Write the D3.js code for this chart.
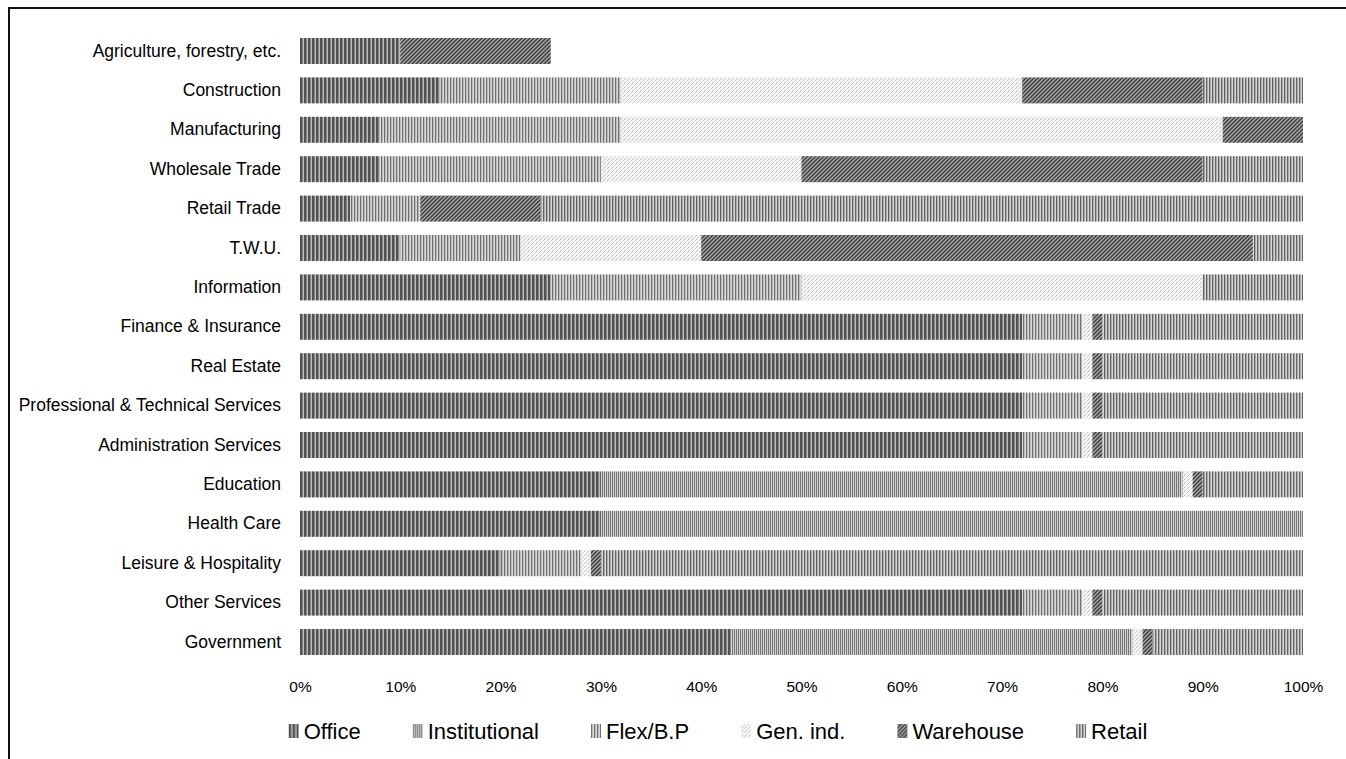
<!DOCTYPE html>
<html>
<head>
<meta charset="utf-8">
<script src="https://cdn.jsdelivr.net/npm/d3@7"></script>
<style>
  body { margin: 0; background: #fff; }
  #chart { width: 1346px; height: 759px; overflow: hidden; }
  text { font-family: "Liberation Sans", Arial, sans-serif; fill: #000; }
</style>
</head>
<body>
<div id="chart"></div>
<script>
// share of floor space by type, in %, per industry
var categories = ['Agriculture, forestry, etc.', 'Construction', 'Manufacturing', 'Wholesale Trade',
  'Retail Trade', 'T.W.U.', 'Information', 'Finance & Insurance', 'Real Estate',
  'Professional & Technical Services', 'Administration Services', 'Education', 'Health Care',
  'Leisure & Hospitality', 'Other Services', 'Government'];

var office        = [10, 14,  8,  8,  5, 10, 25, 72, 72, 72, 72, 30, 30, 20, 72, 43];
var institutional = [ 0,  0,  0,  0,  0,  0,  0,  0,  0,  0,  0, 58, 70,  0,  0, 40];
var flex          = [ 0, 18, 24, 22,  7, 12, 25,  6,  6,  6,  6,  0,  0,  8,  6,  0];
var genInd        = [ 0, 40, 60, 20,  0, 18, 40,  1,  1,  1,  1,  1,  0,  1,  1,  1];
var warehouse     = [15, 18,  8, 40, 12, 55,  0,  1,  1,  1,  1,  1,  0,  1,  1,  1];
var retail        = [ 0, 10,  0, 10, 76,  5, 10, 20, 20, 20, 20, 10,  0, 70, 20, 15];

var seriesNames = ['Office', 'Institutional', 'Flex/B.P', 'Gen. ind.', 'Warehouse', 'Retail'];
var tickValues = [0, 10, 20, 30, 40, 50, 60, 70, 80, 90, 100];

var spaceChart = {

  config: {
    width: 1346,
    height: 759,
    left: 300,
    right: 1303,
    top: 31.3,
    bottom: 661.7
  },

  /* ---
   * Builds the whole chart
   */
  display: function(el) {
    this.el = el;
    this.keys = ['office', 'institutional', 'flex', 'genInd', 'warehouse', 'retail'];
    this.rows = categories.map(function(c, i) {
      return { category: c, office: office[i], institutional: institutional[i], flex: flex[i],
               genInd: genInd[i], warehouse: warehouse[i], retail: retail[i] };
    });

    this.createSvg();
    this.createPatterns();
    this.createScales();
    this.createBars();
    this.createAxes();
    this.createLegend();
  },

  createSvg: function() {
    this.svg = d3.select(this.el).append('svg')
                 .attr('width', this.config.width)
                 .attr('height', this.config.height);

    // chart border, cut off by the window
    this.svg.append('path')
            .attr('d', 'M9,760 L9,8 L1347,8')
            .attr('fill', 'none')
            .attr('stroke', '#111')
            .attr('stroke-width', 2);
  },

  /* ---
   * Hatch fills that mimic the grey pattern fills of the original
   */
  createPatterns: function() {
    var defs = this.svg.append('defs');

    function vertical(id, w, bg, stripes) {
      var p = defs.append('pattern').attr('id', id)
                  .attr('patternUnits', 'userSpaceOnUse')
                  .attr('width', w).attr('height', 8);
      p.append('rect').attr('width', w).attr('height', 8).attr('fill', bg);
      stripes.forEach(function(s) {
        p.append('rect').attr('x', s[0]).attr('width', s[1]).attr('height', 8).attr('fill', s[2]);
      });
    }

    function diagonal(id, bg, stroke, sw, dash) {
      var p = defs.append('pattern').attr('id', id)
                  .attr('patternUnits', 'userSpaceOnUse')
                  .attr('width', 4).attr('height', 4);
      p.append('rect').attr('width', 4).attr('height', 4).attr('fill', bg);
      p.append('path')
       .attr('d', 'M-1,1 L1,-1 M0,4 L4,0 M3,5 L5,3')
       .attr('stroke', stroke)
       .attr('stroke-width', sw)
       .attr('stroke-dasharray', dash || null);
    }

    vertical('pat-office', 4, '#bdbdbd', [[0, 2, '#525252'], [2, 1, '#858585']]);
    vertical('pat-institutional', 2, '#d2d2d2', [[0, 1, '#767676']]);
    vertical('pat-flex', 3, '#d8d8d8', [[0, 1, '#707070'], [1, 1, '#bcbcbc']]);
    diagonal('pat-genInd', '#f4f4f4', '#a9a9a9', 1, '1,1');
    diagonal('pat-warehouse', '#a8a8a8', '#3c3c3c', 1.4);
    vertical('pat-retail', 3, '#d6d6d6', [[0, 1, '#636363'], [1, 1, '#ababab']]);
  },

  createScales: function() {
    this.x = d3.scaleLinear()
               .domain([0, 100])
               .range([this.config.left, this.config.right]);

    this.y = d3.scaleBand()
               .domain(categories)
               .range([this.config.top, this.config.bottom])
               .paddingInner(0.34)
               .paddingOuter(0.17);
  },

  createBars: function() {
    var stack = d3.stack().keys(this.keys)(this.rows);

    this.svg.append('g')
            .selectAll('g')
            .data(stack)
            .enter()
            .append('g')
            .attr('fill', function(d) { return 'url(#pat-' + d.key + ')'; })
            .selectAll('rect')
            .data(function(d) { return d; })
            .enter()
            .filter(function(d) { return d[1] > d[0]; })
            .append('rect')
            .attr('x', (d) => this.x(d[0]))
            .attr('y', (d) => this.y(d.data.category))
            .attr('width', (d) => this.x(d[1]) - this.x(d[0]))
            .attr('height', this.y.bandwidth());
  },

  createAxes: function() {
    var xAxis = this.svg.append('g')
                    .attr('transform', 'translate(0,' + (this.config.bottom + 13) + ')')
                    .call(d3.axisBottom(this.x)
                            .tickValues(tickValues)
                            .tickFormat(function(d) { return d + '%'; })
                            .tickSize(0)
                            .tickPadding(6));
    xAxis.select('.domain').remove();
    xAxis.selectAll('text').style('font-size', '15.5px').style('font-family', null);

    var yAxis = this.svg.append('g')
                    .attr('transform', 'translate(' + this.config.left + ',0)')
                    .call(d3.axisLeft(this.y).tickSize(0).tickPadding(19));
    yAxis.select('.domain').remove();
    yAxis.selectAll('text').style('font-size', '17.5px').style('font-family', null);
  },

  /* ---
   * Legend row under the axis, centred like the original
   */
  createLegend: function() {
    var legend = this.svg.append('g'),
        cy = 731,
        gap = 52,
        items = [];

    seriesNames.forEach((name, i) => {
      var g = legend.append('g');
      g.append('rect')
       .attr('x', 0).attr('y', cy - 7)
       .attr('width', 10).attr('height', 14)
       .attr('fill', 'url(#pat-' + this.keys[i] + ')');
      var t = g.append('text')
               .attr('x', 15).attr('y', cy)
               .attr('dy', '0.35em')
               .style('font-size', '22px')
               .text(name);
      items.push({ g: g, w: 15 + t.node().getComputedTextLength() });
    });

    var total = d3.sum(items, function(d) { return d.w; }) + gap * (items.length - 1),
        pos = 718 - total / 2;

    items.forEach(function(d) {
      d.g.attr('transform', 'translate(' + pos + ',0)');
      pos += d.w + gap;
    });
  }

};

spaceChart.display('#chart');
</script>
</body>
</html>
